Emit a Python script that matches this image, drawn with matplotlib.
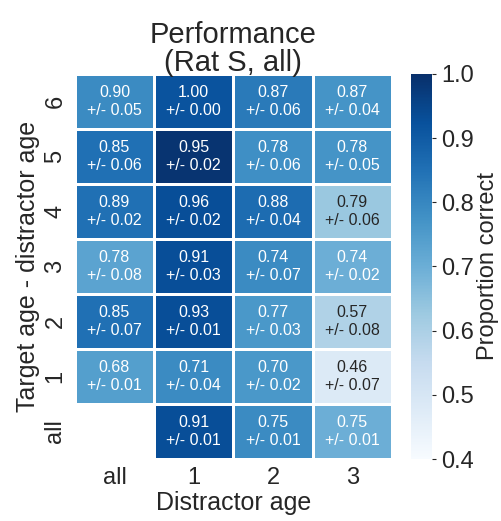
import numpy as np
import matplotlib
matplotlib.use("Agg")
import matplotlib.pyplot as plt
import seaborn as sns

sns.set_style("white")
plt.rcParams['font.family'] = ['Liberation Sans', 'DejaVu Sans']

# Row / column labels
target_rows = ['6', '5', '4', '3', '2', '1', 'all']
distractor_cols = ['all', '1', '2', '3']

# Annotated proportion correct (mean) and error
mean_correct = np.array([
    [0.90, 1.00, 0.87, 0.87],
    [0.85, 0.95, 0.78, 0.78],
    [0.89, 0.96, 0.88, 0.79],
    [0.78, 0.91, 0.74, 0.74],
    [0.85, 0.93, 0.77, 0.57],
    [0.68, 0.71, 0.70, 0.46],
    [np.nan, 0.91, 0.75, 0.75],
])
err_correct = np.array([
    [0.05, 0.00, 0.06, 0.04],
    [0.06, 0.02, 0.06, 0.05],
    [0.02, 0.02, 0.04, 0.06],
    [0.08, 0.03, 0.07, 0.02],
    [0.07, 0.01, 0.03, 0.08],
    [0.01, 0.04, 0.02, 0.07],
    [np.nan, 0.01, 0.01, 0.01],
])
# Cell shading values
shade = np.array([
    [0.79, 0.92, 0.83, 0.77],
    [0.85, 0.99, 0.78, 0.77],
    [0.85, 0.93, 0.86, 0.63],
    [0.73, 0.93, 0.79, 0.70],
    [0.85, 0.93, 0.76, 0.59],
    [0.74, 0.79, 0.76, 0.48],
    [np.nan, 0.93, 0.79, 0.70],
])

annot = np.empty(mean_correct.shape, dtype=object)
for i in range(mean_correct.shape[0]):
    for j in range(mean_correct.shape[1]):
        if np.isnan(mean_correct[i, j]):
            annot[i, j] = ''
        else:
            annot[i, j] = f'{mean_correct[i, j]:.2f}\n+/- {err_correct[i, j]:.2f}'

fig = plt.figure(figsize=(5.02, 5.21), dpi=100)
ax = fig.add_axes([0.149, 0.119, 0.632, 0.739])
cax = fig.add_axes([0.819, 0.119, 0.042, 0.739])

sns.heatmap(shade, ax=ax, cbar_ax=cax, cmap='Blues', vmin=0.4, vmax=1.0,
            mask=np.isnan(shade), annot=annot, fmt='',
            annot_kws={'fontsize': 11.5}, linewidths=1, linecolor='white',
            xticklabels=distractor_cols, yticklabels=target_rows)

ax.set_title('Performance\n(Rat S, all)', fontsize=21, pad=2, color='#262626',
             linespacing=1.0)
ax.set_xlabel('Distractor age', fontsize=18, color='#262626', labelpad=1)
ax.set_ylabel('Target age - distractor age', fontsize=18, color='#262626', labelpad=3)
ax.tick_params(axis='x', labelsize=17, length=0, colors='#262626', pad=6)
ax.tick_params(axis='y', labelsize=17, length=0, colors='#262626', rotation=90, pad=6)
for lab in ax.get_yticklabels():
    lab.set_va('center')

cbar = ax.collections[0].colorbar
cbar.outline.set_visible(False)
cbar.set_ticks([0.4, 0.5, 0.6, 0.7, 0.8, 0.9, 1.0])
cax.tick_params(labelsize=17, length=3, width=0.8, colors='#262626')
cax.set_ylabel('Proportion correct', fontsize=17, color='#262626', labelpad=2)

plt.savefig('out.png', dpi=100)
